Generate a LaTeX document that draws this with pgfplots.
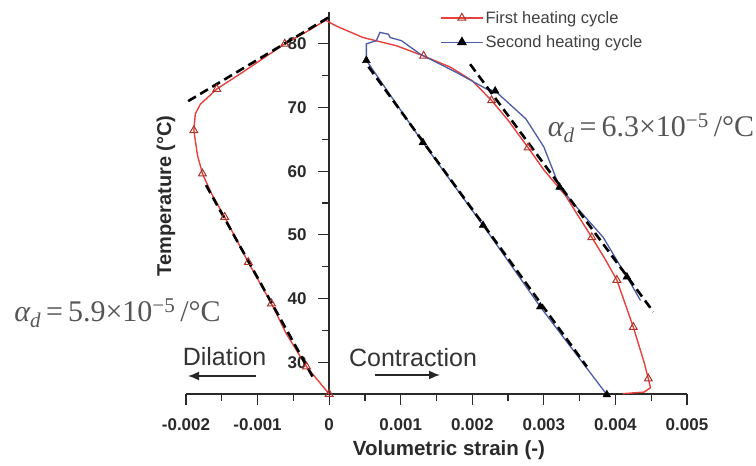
\documentclass[border=0pt]{standalone}
\usepackage{fontspec}
\setmainfont{Liberation Sans}
\newfontfamily\tmsfont{Liberation Serif}
\usepackage{pgfplots}
\pgfplotsset{compat=1.18}
\usetikzlibrary{arrows.meta}
\definecolor{redline}{HTML}{E8403C}
\definecolor{blueline}{HTML}{4B5BA6}
\definecolor{redmark}{HTML}{A8342C}
\definecolor{annot}{HTML}{555555}
\definecolor{axcol}{HTML}{2A2A2A}

\pgfplotstableread{
x y
0 25
-0.000316 29.3
-0.0006 34.5
-0.000806 39.2
-0.00113 45.7
-0.00146 52.8
-0.00164 56.4
-0.00177 59.6
-0.00184 62.5
-0.00189 66.4
-0.00187 69.0
-0.00180 70.5
-0.00157 72.9
-0.00120 75.6
-0.00062 80.0
-0.00030 82.0
-0.00005 83.7
0.0001 82.8
0.00047 81.0
0.00094 79.7
0.00132 78.1
0.0017 76.3
0.0020 74.2
0.00227 71.1
0.0025 68.0
0.00278 63.7
0.0030 60.2
0.0033 56.2
0.00367 49.6
0.00385 46.3
0.00402 42.9
0.00425 35.5
0.0044 30.0
0.00446 27.4
0.00449 26.0
0.0044 25.3
0.0041 25.05
}\firstcycle

\pgfplotstableread{
x y
0 25
-0.000316 29.3
-0.000806 39.2
-0.00113 45.7
-0.00146 52.8
-0.00177 59.6
-0.00189 66.4
-0.00157 72.9
-0.00062 80.0
0.00132 78.1
0.00227 71.1
0.00278 63.7
0.00367 49.6
0.00402 42.9
0.00425 35.5
0.00446 27.4
}\firstmarks

\pgfplotstableread{
x y
0.00388 24.9
0.00295 38.7
0.00215 51.5
0.00131 64.5
0.00052 77.4
0.00052 80.0
0.00066 80.5
0.00071 81.8
0.00083 81.5
0.00085 81.0
0.00101 80.5
0.00127 78.4
0.00178 75.5
0.0022 72.9
0.00232 72.6
0.00275 68.2
0.0030 63.8
0.00322 57.5
0.0035 53.8
0.00383 49.6
0.00402 46.0
0.00416 43.4
0.00435 39.7
}\secondcycle

\pgfplotstableread{
x y
0.00388 24.9
0.00295 38.7
0.00215 51.5
0.00131 64.5
0.00052 77.4
0.00232 72.6
0.00322 57.5
0.00416 43.4
}\secondmarks

\begin{document}
\begin{tikzpicture}
\useasboundingbox (0,0) rectangle (756bp,466bp);
\begin{axis}[
  at={(186bp,72bp)}, anchor=south west,
  scale only axis, width=501bp, height=382bp,
  xmin=-0.002, xmax=0.005, ymin=25, ymax=85,
  axis x line=bottom, axis y line=middle,
  axis line style={-, line width=1.3bp, axcol},
  tick align=outside,
  major tick length=11bp, minor tick length=7bp,
  tick style={line width=1.2bp, axcol},
  xtick={-0.002,-0.001,0,0.001,0.002,0.003,0.004,0.005},
  xticklabels={-0.002,-0.001,0,0.001,0.002,0.003,0.004,0.005},
  minor x tick num=1,
  ytick={30,40,50,60,70,80},
  yticklabels={30,40,50,60,70,80},
  minor y tick num=1,
  scaled x ticks=false,
  hide obscured x ticks=false,
  hide obscured y ticks=false,
  tick label style={font=\fontsize{17bp}{20bp}\selectfont\bfseries, text=axcol},
  xticklabel style={yshift=-10bp},
  yticklabel style={xshift=-8bp},
  clip=false,
  legend image code/.code={\draw[mark repeat=2,mark phase=2,#1] plot coordinates {(0bp,0bp) (21bp,0bp) (42bp,0bp)};},
  legend cell align=left,
  legend style={at={(0.507,1.008)}, anchor=north west, draw=none, fill=none,
    font=\fontsize{16.5bp}{19bp}\selectfont, text=black!75, row sep=7bp, inner sep=0pt},
]
\addlegendimage{redline, line width=1.4bp, mark=triangle, mark size=4.5bp, mark options={draw=redmark, fill=white, line width=1bp, solid}}
\addlegendentry{First heating cycle}
\addlegendimage{blueline, line width=1.4bp, mark=triangle*, mark size=4.5bp, mark options={draw=black, fill=black, solid}}
\addlegendentry{Second heating cycle}

\addplot[redline, line width=1.4bp, forget plot] table[x=x,y=y] {\firstcycle};
\addplot[blueline, line width=1.3bp, forget plot] table[x=x,y=y] {\secondcycle};

\addplot[black, line width=2.6bp, dash pattern=on 9bp off 5bp, forget plot] coordinates {(-0.00197,71.0) (0,84.2)};
\addplot[black, line width=2.6bp, dash pattern=on 9bp off 5bp, forget plot] coordinates {(-0.00172,57.8) (-0.0002,27.1)};
\addplot[black, line width=2.6bp, dash pattern=on 9bp off 5bp, forget plot] coordinates {(0.00055,76.4) (0.0036,29.3)};
\addplot[black, line width=2.6bp, dash pattern=on 9bp off 5bp, forget plot] coordinates {(0.00197,76.8) (0.00453,37.9)};

\addplot[only marks, mark=triangle, mark size=4.5bp, mark options={draw=redmark, fill=white, line width=1bp}, forget plot] table[x=x,y=y] {\firstmarks};
\addplot[only marks, mark=triangle*, mark size=4.5bp, mark options={draw=black, fill=black}, forget plot] table[x=x,y=y] {\secondmarks};
\end{axis}

\node[rotate=90, font=\fontsize{20bp}{24bp}\selectfont\bfseries, text=axcol] at (166bp,270bp) {Temperature (°C)};
\node[font=\fontsize{20.5bp}{24bp}\selectfont\bfseries, text=axcol] at (449bp,16bp) {Volumetric strain (-)};

\node[font=\fontsize{25bp}{30bp}\selectfont, text=black!80] at (224.5bp,109bp) {Dilation};
\node[font=\fontsize{25bp}{30bp}\selectfont, text=black!80] at (413bp,108bp) {Contraction};
\draw[-{Latex[length=11bp,width=9bp]}, line width=1.6bp, black!85] (256bp,90bp) -- (188bp,90bp);
\draw[-{Latex[length=11bp,width=9bp]}, line width=1.6bp, black!85] (375bp,91bp) -- (440bp,91bp);

\node[font=\tmsfont\fontsize{30bp}{34bp}\selectfont, text=annot, inner sep=0pt] at (117.5bp,153bp)
  {\itshape α\textsubscript{d}\upshape\,=\,5.9×10\textsuperscript{−5}\,/°C};
\node[font=\tmsfont\fontsize{30bp}{34bp}\selectfont, text=annot, inner sep=0pt] at (651bp,338bp)
  {\itshape α\textsubscript{d}\upshape\,=\,6.3×10\textsuperscript{−5}\,/°C};
\end{tikzpicture}
\end{document}
